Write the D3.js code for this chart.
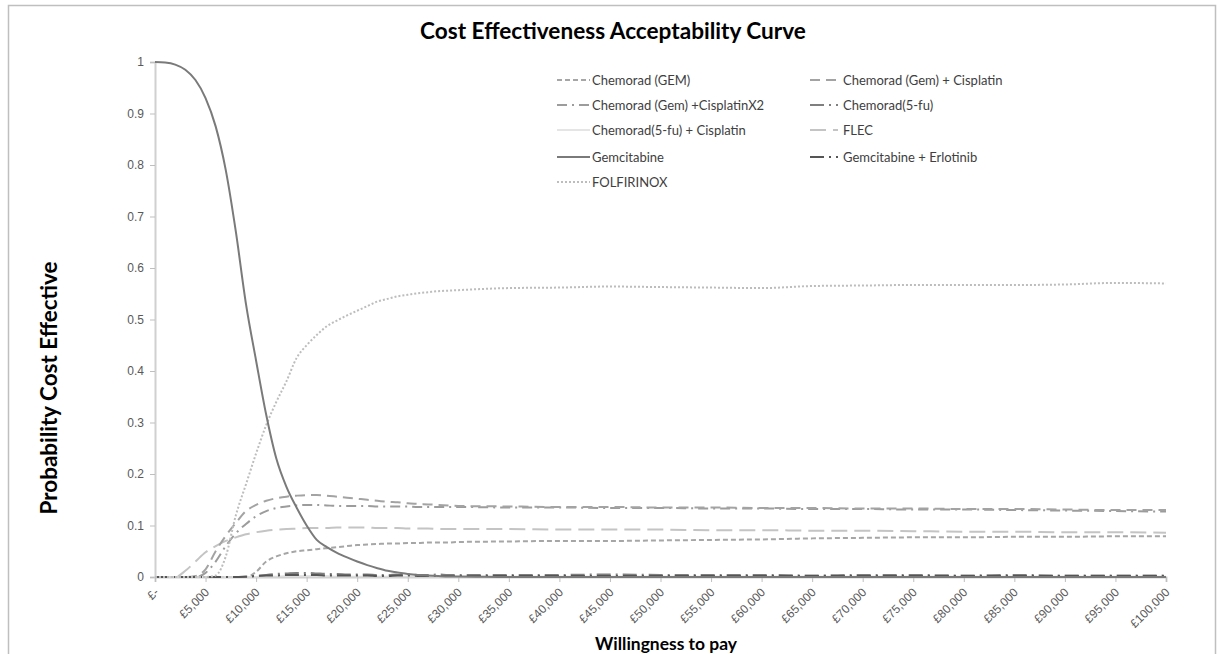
<!DOCTYPE html>
<html>
<head>
<meta charset="utf-8">
<script src="https://cdn.jsdelivr.net/npm/d3@7/dist/d3.min.js"></script>
<style>
  html, body { margin: 0; padding: 0; background: #fff; }
  svg { display: block; font-family: Lato, "Open Sans", "DejaVu Sans", sans-serif; }
</style>
</head>
<body>
<svg id="chart" width="1221" height="654"></svg>
<script>
// ---- DATA ----
const wtp = [0,1000,2000,3000,4000,5000,6000,7000,8000,9000,10000,11000,12000,13000,14000,15000,16000,17000,18000,19000,20000,
  21000,22000,23000,24000,25000,26000,27000,28000,29000,30000,
  35000,40000,45000,50000,55000,60000,65000,70000,75000,80000,85000,90000,95000,100000];

const chemoradGEM = [0,0,0,0,0,0,0,0,0,0,0.01,0.03,0.04,0.046,0.05,0.052,0.054,0.056,0.058,0.06,0.062,
  0.063,0.064,0.065,0.065,0.066,0.066,0.067,0.067,0.067,0.068,
  0.069,0.07,0.07,0.071,0.072,0.073,0.075,0.076,0.077,0.077,0.078,0.078,0.079,0.079];
const chemoradGemCis = [0,0,0,0,0.002,0.015,0.05,0.08,0.105,0.128,0.14,0.148,0.153,0.156,0.158,0.159,0.159,0.158,0.156,0.154,0.152,
  0.15,0.148,0.146,0.145,0.143,0.142,0.141,0.14,0.139,0.138,
  0.137,0.136,0.136,0.135,0.135,0.134,0.134,0.133,0.133,0.132,0.132,0.131,0.13,0.13];
const chemoradGemCisX2 = [0,0,0,0,0,0.008,0.03,0.06,0.085,0.103,0.118,0.128,0.134,0.137,0.139,0.14,0.14,0.139,0.138,0.138,0.138,
  0.138,0.137,0.137,0.137,0.137,0.136,0.136,0.136,0.136,0.136,
  0.135,0.135,0.134,0.134,0.133,0.133,0.132,0.132,0.131,0.131,0.13,0.129,0.128,0.127];
const chemorad5fu = [0,0,0,0,0,0,0,0,0,0,0.002,0.004,0.006,0.007,0.008,0.008,0.007,0.006,0.006,0.005,0.005,
  0.005,0.004,0.004,0.005,0.005,0.004,0.004,0.005,0.004,0.004,
  0.004,0.004,0.005,0.004,0.004,0.004,0.003,0.004,0.004,0.003,0.004,0.003,0.003,0.003];
const chemorad5fuCis = [0,0,0,0,0,0,0,0,0,0,0,0.001,0.001,0.002,0.002,0.002,0.002,0.002,0.001,0.001,0.001,
  0.001,0.001,0.001,0.001,0.001,0.001,0.001,0.001,0.001,0.001,
  0.001,0.001,0.001,0.001,0.001,0.001,0.001,0.001,0.001,0.001,0.001,0.001,0.001,0.001];
const flec = [0,0,0,0.012,0.03,0.048,0.06,0.07,0.077,0.083,0.087,0.09,0.092,0.093,0.094,0.095,0.095,0.095,0.096,0.096,0.096,
  0.096,0.095,0.095,0.095,0.094,0.094,0.094,0.093,0.093,0.093,
  0.093,0.092,0.092,0.092,0.091,0.091,0.09,0.09,0.089,0.088,0.088,0.087,0.087,0.086];
const gemcitabine = [1.0,0.999,0.995,0.985,0.965,0.93,0.875,0.79,0.67,0.53,0.42,0.315,0.23,0.175,0.135,0.1,0.072,0.058,0.047,0.038,0.03,
  0.023,0.017,0.012,0.009,0.006,0.004,0.003,0.002,0.001,0.001,
  0,0,0,0,0,0,0,0,0,0,0,0,0,0];
const gemErlotinib = [0,0,0,0,0,0,0,0,0,0.001,0.002,0.003,0.003,0.004,0.004,0.004,0.004,0.003,0.003,0.003,0.003,
  0.003,0.002,0.002,0.003,0.003,0.002,0.002,0.002,0.002,0.002,
  0.002,0.002,0.002,0.002,0.002,0.002,0.002,0.002,0.002,0.002,0.002,0.002,0.002,0.002];
const folfirinox = [0,0,0,0,0,0,0.003,0.04,0.12,0.18,0.24,0.295,0.34,0.38,0.425,0.45,0.47,0.487,0.498,0.508,0.517,
  0.526,0.535,0.54,0.545,0.548,0.551,0.553,0.555,0.556,0.557,
  0.561,0.562,0.564,0.563,0.562,0.561,0.565,0.566,0.567,0.567,0.567,0.568,0.571,0.57];

const seriesNames = ["Chemorad (GEM)","Chemorad (Gem) + Cisplatin","Chemorad (Gem) +CisplatinX2","Chemorad(5-fu)",
  "Chemorad(5-fu) + Cisplatin","FLEC","Gemcitabine","Gemcitabine + Erlotinib","FOLFIRINOX"];
const seriesValues = [chemoradGEM, chemoradGemCis, chemoradGemCisX2, chemorad5fu, chemorad5fuCis, flec, gemcitabine, gemErlotinib, folfirinox];

const xTickValues = [0,5000,10000,15000,20000,25000,30000,35000,40000,45000,50000,55000,60000,65000,70000,75000,80000,85000,90000,95000,100000];
const xTickLabels = ["£-","£5,000","£10,000","£15,000","£20,000","£25,000","£30,000","£35,000","£40,000","£45,000","£50,000",
  "£55,000","£60,000","£65,000","£70,000","£75,000","£80,000","£85,000","£90,000","£95,000","£100,000"];
const yTickValues = [0,0.1,0.2,0.3,0.4,0.5,0.6,0.7,0.8,0.9,1];
const yTickLabels = ["0","0.1","0.2","0.3","0.4","0.5","0.6","0.7","0.8","0.9","1"];

// ---- STYLES ----
const styles = [
  {color:"#a6a6a6", dash:"5,3",        width:2},
  {color:"#a3a3a3", dash:"10,6",       width:2},
  {color:"#9c9c9c", dash:"10,5,2,5",   width:2},
  {color:"#7f7f7f", dash:"14,5,2,5",   width:2},
  {color:"#dcdcdc", dash:null,         width:1.5},
  {color:"#c4c4c4", dash:"16,7",       width:2},
  {color:"#7a7a7a", dash:null,         width:2},
  {color:"#555555", dash:"14,5,2,5",   width:2},
  {color:"#bdbdbd", dash:"2,2",        width:2}
];

const svg = d3.select("#chart");

// outer frame
svg.append("rect").attr("x",8.5).attr("y",5.5).attr("width",1207).attr("height",660)
  .attr("fill","#fff").attr("stroke","#bfbfbf").attr("stroke-width",1.5);

const x = d3.scaleLinear().domain([0,100000]).range([155,1166]);
const y = d3.scaleLinear().domain([0,1]).range([577,62]);

// Y axis
const yAxis = d3.axisLeft(y).tickValues(yTickValues).tickSize(5).tickPadding(6)
  .tickFormat((d,i)=>yTickLabels[i]);
const gy = svg.append("g").attr("transform",`translate(${x(0)},0)`).call(yAxis);
gy.select(".domain").attr("stroke","#d0d0d0").attr("stroke-width",2);
gy.selectAll(".tick line").attr("stroke","#bfbfbf");
gy.selectAll(".tick text").attr("fill","#595959").style("font-size","12px");

// X axis
const xAxis = d3.axisBottom(x).tickValues(xTickValues).tickSize(5).tickPadding(4)
  .tickFormat((d,i)=>xTickLabels[i]);
const gx = svg.append("g").attr("transform",`translate(0,${y(0)})`).call(xAxis);
gx.select(".domain").attr("stroke","#d0d0d0").attr("stroke-width",2);
gx.selectAll(".tick line").attr("stroke","#bfbfbf");
gx.selectAll(".tick text").attr("fill","#595959").style("font-size","12px")
  .attr("text-anchor","end").attr("dy","0").attr("y",0)
  .attr("transform","translate(4,16) rotate(-45)");

// Lines
const line = d3.line().x((d,i)=>x(wtp[i])).y(d=>y(d)).curve(d3.curveMonotoneX);
const drawOrder = [5,0,2,1,4,3,7,8,6];
drawOrder.forEach(k=>{
  svg.append("path").datum(seriesValues[k])
    .attr("fill","none").attr("stroke",styles[k].color)
    .attr("stroke-width",styles[k].width)
    .attr("stroke-dasharray",styles[k].dash)
    .attr("d",line);
});

// Legend
const legendRows = [80,105,130,157,182];
const legendCols = [{sx:557, ex:590, tx:592},{sx:810, ex:838, tx:843}];
seriesNames.forEach((name,k)=>{
  const col = k%2, row = Math.floor(k/2);
  const c = legendCols[col], yy = legendRows[row];
  svg.append("line").attr("x1",c.sx).attr("x2",c.ex).attr("y1",yy).attr("y2",yy)
    .attr("stroke",styles[k].color).attr("stroke-width",styles[k].width)
    .attr("stroke-dasharray",styles[k].dash);
  svg.append("text").attr("x",c.tx).attr("y",yy).attr("dy","0.35em")
    .attr("fill","#404040").style("font-size","13px").text(name);
});

// Titles
function fit(sel, target){
  const w = sel.node().getComputedTextLength();
  const fs = parseFloat(sel.style("font-size"));
  sel.style("font-size", (fs*target/w).toFixed(2)+"px");
}
const title = svg.append("text").attr("x",613).attr("y",39).attr("text-anchor","middle")
  .style("font-size","18px").style("font-weight","bold").attr("fill","#000")
  .text("Cost Effectiveness Acceptability Curve");
fit(title, 386);

const ytitle = svg.append("text").attr("transform","translate(57,388) rotate(-90)")
  .attr("text-anchor","middle").style("font-size","20px").style("font-weight","bold").attr("fill","#000")
  .text("Probability Cost Effective");
fit(ytitle, 253);

const xtitle = svg.append("text").attr("x",666).attr("y",650).attr("text-anchor","middle")
  .style("font-size","14px").style("font-weight","bold").attr("fill","#000")
  .text("Willingness to pay");
fit(xtitle, 142);
</script>
</body>
</html>
